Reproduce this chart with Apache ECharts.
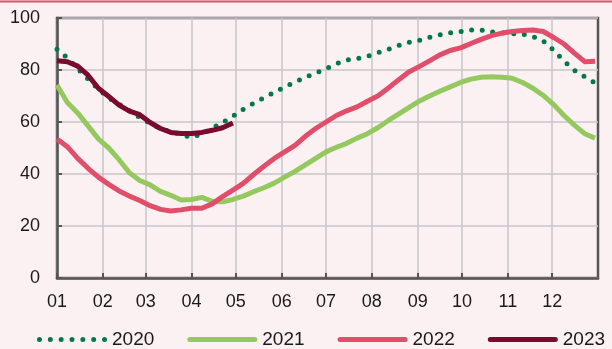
<!DOCTYPE html>
<html>
<head>
<meta charset="utf-8">
<script src="https://cdn.jsdelivr.net/npm/echarts@6/dist/echarts.min.js"></script>
<style>
  html, body { margin: 0; padding: 0; background: #fbf1f3; }
  #chart { width: 612px; height: 349px; }
</style>
</head>
<body>
<div id="chart"></div>
<script>
// Weekly observation positions, as day of the year
const days = [0, 7, 14, 21, 28, 35, 42, 49, 56, 63, 70, 77, 84, 91, 98, 105, 112, 119,
  126, 133, 140, 147, 154, 161, 168, 175, 182, 189, 196, 203, 210, 217, 224, 231, 238,
  245, 252, 259, 266, 273, 280, 287, 294, 301, 308, 315, 322, 329, 336, 343, 350, 357, 364];

const s2020 = [88.0, 84.7, 80.5, 76.5, 72.7, 69.2, 66.8, 64.3, 61.8, 59.5, 57.5, 56.3, 55.2,
  54.0, 55.5, 57.6, 59.8, 62.2, 64.9, 67.2, 69.3, 71.4, 73.5, 75.3, 77.2, 78.8, 80.5, 82.4,
  83.8, 84.4, 85.3, 86.6, 87.9, 89.4, 90.6, 91.4, 92.6, 93.5, 94.3, 94.8, 95.4, 95.4, 94.6,
  94.3, 94.0, 93.8, 92.8, 91.2, 87.6, 83.5, 79.9, 77.4, 75.0];

const s2021 = [74.2, 67.5, 63.5, 58.5, 53.5, 50.0, 45.5, 40.5, 37.5, 35.8, 33.3, 31.8, 30.0,
  30.2, 31.0, 29.5, 29.3, 30.2, 31.5, 33.2, 34.7, 36.5, 38.8, 41.0, 43.5, 46.0, 48.5, 50.3,
  51.8, 53.8, 55.5, 57.8, 60.5, 63.0, 65.5, 68.0, 70.0, 71.8, 73.5, 75.2, 76.5, 77.2, 77.4,
  77.2, 76.8, 75.2, 73.0, 70.2, 66.7, 62.5, 58.8, 55.5, 53.8];

const s2022 = [53.5, 50.5, 46.0, 42.2, 38.8, 36.0, 33.5, 31.5, 29.8, 27.8, 26.4, 25.8, 26.2,
  26.8, 26.8, 28.5, 31.3, 33.8, 36.4, 39.8, 43.0, 46.0, 48.5, 51.0, 54.5, 57.5, 60.0, 62.5,
  64.3, 65.8, 68.0, 70.0, 73.0, 76.2, 79.2, 81.3, 83.5, 85.8, 87.5, 88.5, 90.2, 91.8, 93.2,
  94.2, 94.8, 95.2, 95.4, 94.8, 92.5, 90.0, 86.5, 83.2, 83.4];

const s2023 = [83.6, 83.2, 81.5, 78.0, 73.0, 69.8, 66.5, 64.2, 62.8, 59.8, 57.5, 56.0, 55.6,
  55.6, 56.0, 56.8, 57.8, 59.6];

// Month starts (day of year) and their tick labels
const monthStarts = [0, 31, 60, 91, 121, 152, 182, 213, 244, 274, 305, 335];
const monthLabels = ['01', '02', '03', '04', '05', '06', '07', '08', '09', '10', '11', '12'];

const yTicks = [0, 20, 40, 60, 80, 100];

const FONT = '"Liberation Sans", Arial, sans-serif';
const AXIS = '#555555';
const GRID = '#c9c4c9';

function pairs(values) {
  return values.map((v, i) => [days[i], v]);
}

// Legend glyphs: a row of dots, and a rounded bar
function dotRow(n, w, r) {
  const step = (w - 2 * r) / (n - 1);
  let p = '';
  for (let k = 0; k < n; k++) {
    const cx = r + k * step;
    p += 'M' + (cx - r) + ',' + r + ' a' + r + ',' + r + ' 0 1,0 ' + (2 * r) + ',0 a' + r + ',' + r + ' 0 1,0 ' + (-2 * r) + ',0 Z ';
  }
  return 'path://' + p;
}
const barIcon = 'path://M2.5,0 L67.5,0 A2.5,2.5 0 0 1 67.5,5 L2.5,5 A2.5,2.5 0 0 1 2.5,0 Z';
const dotIcon = dotRow(7, 70, 2.5);

const chart = echarts.init(document.getElementById('chart'), null, { renderer: 'canvas' });

chart.setOption({
  animation: false,
  backgroundColor: '#fbf1f3',
  textStyle: { fontFamily: FONT },
  graphic: [{
    type: 'rect',
    shape: { x: 0, y: 0.5, width: 612, height: 2 },
    style: { fill: '#e04e69' },
    silent: true
  }],
  grid: {
    left: 57, right: 14, top: 18, bottom: 71,
    show: true, borderColor: AXIS, borderWidth: 2.5, backgroundColor: 'transparent'
  },
  legend: {
    left: 37, top: 330, padding: 0,
    itemWidth: 70, itemHeight: 5, itemGap: 33,
    textStyle: { fontSize: 19, color: '#1a1a1a', fontFamily: FONT },
    data: [
      { name: '2020', icon: dotIcon },
      { name: '2021', icon: barIcon },
      { name: '2022', icon: barIcon },
      { name: '2023', icon: barIcon }
    ]
  },
  xAxis: {
    type: 'value', min: 0, max: 366,
    axisLine: { show: true, onZero: false, lineStyle: { color: AXIS, width: 2.5 } },
    axisTick: { show: true, inside: true, length: 5, customValues: monthStarts, lineStyle: { color: AXIS, width: 2 } },
    axisLabel: {
      customValues: monthStarts,
      formatter: v => monthLabels[monthStarts.indexOf(v)] || '',
      fontSize: 18, color: '#1a1a1a', margin: 15, fontFamily: FONT
    },
    splitLine: { show: true, lineStyle: { color: GRID, width: 1.5 } }
  },
  yAxis: {
    type: 'value', min: 0, max: 100, interval: 20,
    axisLine: { show: true, lineStyle: { color: AXIS, width: 2.5 } },
    axisTick: { show: true, inside: true, length: 5, lineStyle: { color: AXIS, width: 2 } },
    axisLabel: {
      formatter: v => (yTicks.indexOf(v) >= 0 ? String(v) : ''),
      fontSize: 18, color: '#1a1a1a', margin: 17, fontFamily: FONT
    },
    splitLine: { show: true, lineStyle: { color: GRID, width: 1.5 } }
  },
  series: [
    {
      name: '2020', type: 'line', data: pairs(s2020), symbol: 'none', color: '#007a45',
      lineStyle: { width: 5, type: [0, 10.6], cap: 'round', join: 'round', color: '#007a45' }, z: 2
    },
    {
      name: '2021', type: 'line', data: pairs(s2021), symbol: 'none', color: '#95c95f',
      lineStyle: { width: 5, join: 'round', color: '#95c95f' }, z: 3
    },
    {
      name: '2022', type: 'line', data: pairs(s2022), symbol: 'none', color: '#e04e69',
      lineStyle: { width: 5, join: 'round', color: '#e04e69' }, z: 4
    },
    {
      name: '2023', type: 'line', data: pairs(s2023), symbol: 'none', color: '#7b0a31',
      lineStyle: { width: 5, join: 'round', color: '#7b0a31' }, z: 5
    }
  ]
});
</script>
</body>
</html>
